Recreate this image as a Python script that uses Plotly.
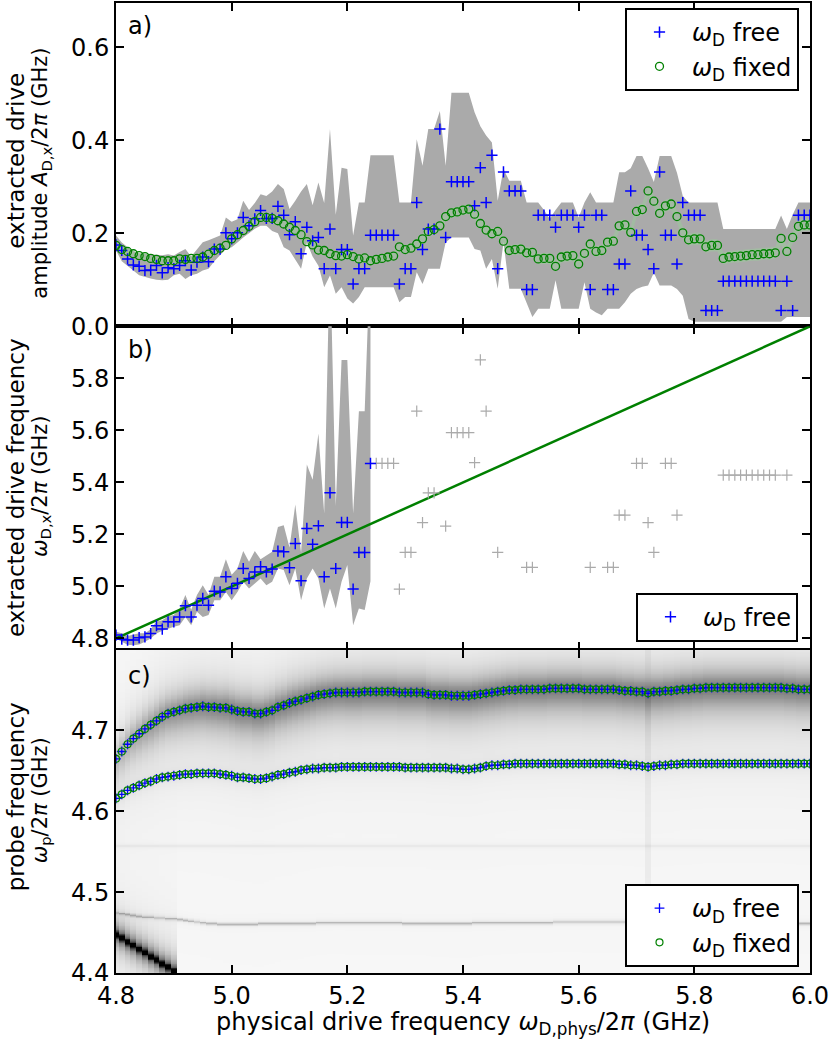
import numpy as np
import plotly.graph_objects as go
from plotly.subplots import make_subplots

# ---------------- data ----------------
x_phys = np.round(np.arange(480, 601) / 100, 2)  # physical drive frequency grid 4.80 ... 6.00 GHz

amp_free = [0.175, 0.163, 0.145, 0.132, 0.129, 0.120, 0.121, 0.131, 0.115, 0.126,
            0.124, 0.131, 0.141, 0.121, 0.138, 0.149, 0.139, 0.166, 0.166, 0.201,
            0.188, 0.201, 0.234, 0.216, 0.231, 0.249, 0.232, 0.232, 0.258, 0.239,
            0.197, 0.225, 0.156, 0.213, 0.184, 0.191, 0.124, 0.209, 0.124, 0.165,
            0.165, 0.091, 0.124, 0.124, 0.196, 0.196, 0.196, 0.196, 0.196, 0.091,
            0.124, 0.124, 0.266, 0.165, 0.209, 0.209, 0.424, 0.191, 0.311, 0.311,
            0.311, 0.311, 0.259, 0.341, 0.266, 0.368, 0.124, 0.332, 0.291, 0.291,
            0.291, 0.079, 0.079, 0.239, 0.239, 0.239, 0.213, 0.239, 0.239, 0.239,
            0.213, 0.239, 0.079, 0.239, 0.239, 0.079, 0.079, 0.134, 0.134, 0.291,
            0.196, 0.196, 0.165, 0.124, 0.332, 0.196, 0.196, 0.134, 0.266, 0.239,
            0.239, 0.239, 0.034, 0.034, 0.034, 0.097, 0.097, 0.097, 0.097, 0.097,
            0.097, 0.097, 0.097, 0.097, 0.097, 0.034, 0.097, 0.034, 0.239, 0.239,
            0.239]

amp_free_hi = [0.195, 0.180, 0.170, 0.162, 0.157, 0.156, 0.155, 0.155, 0.153, 0.155,
               0.152, 0.160, 0.166, 0.150, 0.165, 0.181, 0.185, 0.190, 0.195, 0.234,
               0.225, 0.230, 0.270, 0.250, 0.265, 0.284, 0.280, 0.290, 0.306, 0.295,
               0.252, 0.270, 0.290, 0.306, 0.260, 0.309, 0.265, 0.424, 0.240, 0.341,
               0.338, 0.195, 0.266, 0.266, 0.368, 0.368, 0.368, 0.368, 0.368, 0.266,
               0.266, 0.266, 0.402, 0.345, 0.424, 0.424, 0.463, 0.345, 0.502, 0.502,
               0.502, 0.502, 0.460, 0.430, 0.410, 0.395, 0.270, 0.338, 0.313, 0.313,
               0.313, 0.266, 0.266, 0.266, 0.250, 0.231, 0.250, 0.266, 0.266, 0.266,
               0.234, 0.266, 0.288, 0.266, 0.266, 0.266, 0.266, 0.331, 0.331, 0.340,
               0.366, 0.366, 0.340, 0.310, 0.366, 0.366, 0.366, 0.330, 0.280, 0.266,
               0.266, 0.266, 0.266, 0.266, 0.266, 0.209, 0.209, 0.209, 0.209, 0.209,
               0.209, 0.209, 0.209, 0.209, 0.209, 0.238, 0.209, 0.240, 0.266, 0.266,
               0.266]

amp_free_lo = [0.163, 0.140, 0.130, 0.120, 0.110, 0.107, 0.103, 0.100, 0.099, 0.100,
               0.110, 0.113, 0.102, 0.110, 0.113, 0.120, 0.124, 0.140, 0.154, 0.166,
               0.170, 0.180, 0.191, 0.200, 0.210, 0.216, 0.216, 0.205, 0.200, 0.170,
               0.163, 0.145, 0.124, 0.180, 0.150, 0.130, 0.084, 0.109, 0.070, 0.084,
               0.060, 0.049, 0.063, 0.084, 0.084, 0.084, 0.084, 0.084, 0.084, 0.052,
               0.063, 0.063, 0.116, 0.091, 0.124, 0.124, 0.124, 0.180, 0.191, 0.191,
               0.191, 0.191, 0.166, 0.163, 0.124, 0.145, 0.081, 0.181, 0.081, 0.081,
               0.081, 0.050, 0.020, 0.038, 0.038, 0.038, 0.099, 0.038, 0.038, 0.038,
               0.038, 0.095, 0.038, 0.030, 0.024, 0.038, 0.038, 0.038, 0.052, 0.070,
               0.080, 0.085, 0.088, 0.115, 0.088, 0.088, 0.088, 0.080, 0.066, 0.016,
               0.010, 0.010, 0.010, 0.010, 0.010, 0.010, 0.010, 0.010, 0.010, 0.010,
               0.010, 0.010, 0.010, 0.010, 0.010, 0.010, 0.020, 0.020, 0.020, 0.020,
               0.020]

amp_fixed = [0.174, 0.165, 0.161, 0.156, 0.152, 0.150, 0.146, 0.144, 0.141, 0.141,
             0.141, 0.145, 0.144, 0.146, 0.146, 0.149, 0.155, 0.163, 0.168, 0.174,
             0.188, 0.197, 0.206, 0.215, 0.225, 0.234, 0.234, 0.232, 0.227, 0.220,
             0.213, 0.206, 0.197, 0.182, 0.175, 0.164, 0.163, 0.156, 0.152, 0.151,
             0.154, 0.150, 0.145, 0.147, 0.141, 0.144, 0.146, 0.149, 0.151, 0.171,
             0.165, 0.168, 0.177, 0.188, 0.204, 0.208, 0.216, 0.236, 0.244, 0.246,
             0.250, 0.252, 0.241, 0.221, 0.207, 0.199, 0.204, 0.183, 0.163, 0.165,
             0.166, 0.158, 0.159, 0.145, 0.146, 0.146, 0.129, 0.149, 0.151, 0.152,
             0.134, 0.157, 0.177, 0.161, 0.163, 0.181, 0.183, 0.216, 0.218, 0.202,
             0.247, 0.251, 0.291, 0.269, 0.243, 0.259, 0.263, 0.236, 0.201, 0.186,
             0.188, 0.188, 0.171, 0.174, 0.174, 0.146, 0.149, 0.150, 0.151, 0.152,
             0.154, 0.154, 0.156, 0.156, 0.158, 0.189, 0.161, 0.191, 0.215, 0.218,
             0.218]

amp_fixed_err = [0.008, 0.007, 0.007, 0.006, 0.006, 0.006, 0.006, 0.006, 0.006, 0.006,
                 0.006, 0.006, 0.006, 0.006, 0.006, 0.006, 0.007, 0.007, 0.007, 0.007,
                 0.008, 0.008, 0.008, 0.008, 0.008, 0.008, 0.008, 0.008, 0.008, 0.008,
                 0.009, 0.009, 0.009, 0.009, 0.009, 0.009, 0.009, 0.009, 0.009, 0.009,
                 0.009, 0.009, 0.009, 0.009, 0.009, 0.009, 0.009, 0.009, 0.009, 0.010,
                 0.010, 0.010, 0.010, 0.010, 0.010, 0.010, 0.010, 0.011, 0.011, 0.011,
                 0.011, 0.011, 0.011, 0.011, 0.011, 0.011, 0.011, 0.011, 0.011, 0.011,
                 0.012, 0.012, 0.012, 0.012, 0.012, 0.012, 0.012, 0.012, 0.012, 0.012,
                 0.012, 0.012, 0.012, 0.012, 0.012, 0.012, 0.012, 0.012, 0.012, 0.012,
                 0.013, 0.013, 0.013, 0.013, 0.013, 0.013, 0.013, 0.013, 0.013, 0.013,
                 0.013, 0.013, 0.013, 0.013, 0.013, 0.013, 0.013, 0.013, 0.013, 0.013,
                 0.013, 0.013, 0.013, 0.013, 0.013, 0.013, 0.013, 0.013, 0.013, 0.013,
                 0.013]

freq_free = [4.813, 4.797, 4.794, 4.794, 4.803, 4.806, 4.819, 4.849, 4.836, 4.864,
             4.864, 4.883, 4.926, 4.883, 4.928, 4.954, 4.928, 4.982, 4.979, 5.037,
             4.992, 5.012, 5.069, 5.031, 5.056, 5.076, 5.056, 5.067, 5.136, 5.133,
             5.072, 5.165, 5.022, 5.223, 5.162, 5.233, 5.037, 5.360, 5.069, 5.246,
             5.246, 4.990, 5.131, 5.131, 5.473, 5.473, 5.473, 5.473, 5.473, 4.990,
             5.131, 5.131, 5.674, 5.245, 5.360, 5.360, None, 5.232, 5.591, 5.591,
             5.591, 5.591, 5.476, 5.871, 5.674, None, 5.131, None, None, None,
             None, 5.073, 5.073, None, None, None, None, None, None, None,
             None, None, 5.073, None, None, 5.073, 5.073, 5.274, 5.274, None,
             5.473, 5.473, 5.245, 5.131, None, 5.473, 5.473, 5.274, None, None,
             None, None, None, None, None, 5.428, 5.428, 5.428, 5.428, 5.428,
             5.428, 5.428, 5.428, 5.428, 5.428, None, 5.428, None, None, None,
             None]
n_reliable = 45  # fits with a usable error band (up to 5.24 GHz)

freq_free_hi = [4.826, 4.820, 4.810, 4.815, 4.820, 4.820, 4.835, 4.865, 4.870, 4.885,
                4.890, 4.915, 4.967, 4.910, 4.967, 5.005, 4.967, 5.037, 5.037, 5.105,
                5.045, 5.069, 5.136, 5.095, 5.136, 5.105, 5.120, 5.133, 5.229, 5.235,
                5.150, 5.315, 5.130, 5.469, 5.410, 5.588, 5.280, 6.300, 5.310, 5.871,
                5.871, 5.280, 5.674, 5.674, 6.300]
freq_free_lo = [4.800, 4.787, 4.776, 4.774, 4.777, 4.787, 4.800, 4.819, 4.830, 4.838,
                4.845, 4.851, 4.883, 4.851, 4.903, 4.883, 4.890, 4.947, 4.947, 4.979,
                4.947, 4.979, 5.018, 4.992, 5.012, 5.031, 5.005, 5.018, 5.069, 5.063,
                5.005, 5.069, 4.947, 5.031, 5.069, 5.031, 4.915, 4.992, 4.915, 5.018,
                5.082, 4.851, 4.915, 4.909, 5.020]

freq_fixed = list(x_phys)  # drive frequency held at the physical value

peak_upper = [4.665, 4.674, 4.683, 4.690, 4.696, 4.702, 4.707, 4.712, 4.717, 4.721,
              4.723, 4.725, 4.727, 4.728, 4.729, 4.730, 4.729, 4.729, 4.728, 4.728,
              4.726, 4.724, 4.723, 4.723, 4.721, 4.721, 4.723, 4.725, 4.729, 4.731,
              4.734, 4.736, 4.738, 4.740, 4.742, 4.744, 4.745, 4.746, 4.747, 4.747,
              4.747, 4.747, 4.747, 4.748, 4.748, 4.748, 4.748, 4.748, 4.748, 4.747,
              4.747, 4.747, 4.747, 4.747, 4.745, 4.744, 4.744, 4.744, 4.743, 4.743,
              4.743, 4.743, 4.744, 4.745, 4.746, 4.747, 4.748, 4.749, 4.750, 4.750,
              4.751, 4.751, 4.751, 4.751, 4.751, 4.752, 4.752, 4.752, 4.752, 4.752,
              4.752, 4.751, 4.751, 4.751, 4.751, 4.751, 4.751, 4.750, 4.749, 4.749,
              4.748, 4.748, 4.746, 4.748, 4.748, 4.749, 4.749, 4.750, 4.751, 4.751,
              4.752, 4.752, 4.753, 4.753, 4.753, 4.753, 4.753, 4.753, 4.753, 4.753,
              4.753, 4.753, 4.753, 4.753, 4.753, 4.753, 4.752, 4.752, 4.751, 4.751,
              4.751]

peak_lower = [4.616, 4.621, 4.626, 4.629, 4.632, 4.635, 4.637, 4.640, 4.642, 4.643,
              4.644, 4.645, 4.646, 4.646, 4.647, 4.647, 4.647, 4.647, 4.646, 4.645,
              4.644, 4.642, 4.642, 4.641, 4.640, 4.640, 4.641, 4.643, 4.645, 4.646,
              4.648, 4.649, 4.651, 4.652, 4.653, 4.653, 4.654, 4.654, 4.654, 4.655,
              4.655, 4.655, 4.655, 4.655, 4.655, 4.655, 4.655, 4.655, 4.655, 4.655,
              4.654, 4.654, 4.654, 4.654, 4.654, 4.654, 4.654, 4.654, 4.653, 4.653,
              4.652, 4.652, 4.653, 4.654, 4.656, 4.657, 4.657, 4.658, 4.658, 4.659,
              4.659, 4.659, 4.659, 4.659, 4.659, 4.659, 4.659, 4.659, 4.659, 4.659,
              4.659, 4.659, 4.659, 4.659, 4.659, 4.659, 4.659, 4.658, 4.658, 4.657,
              4.657, 4.656, 4.655, 4.656, 4.657, 4.657, 4.658, 4.658, 4.659, 4.659,
              4.659, 4.659, 4.659, 4.659, 4.659, 4.659, 4.659, 4.659, 4.659, 4.659,
              4.659, 4.659, 4.659, 4.659, 4.659, 4.659, 4.659, 4.659, 4.659, 4.659,
              4.659]

# weak spectral features seen in the probe map
band_strength = ([0.24, 0.26, 0.28, 0.30, 0.32, 0.34, 0.36, 0.37, 0.38, 0.39,
                  0.40, 0.41, 0.42, 0.43, 0.43, 0.44, 0.44, 0.45, 0.45, 0.46]
                 + [0.46] * 10 + [0.47] * 10 + [0.48] * 81)
mode_low = ([4.474, 4.473, 4.472, 4.471, 4.470, 4.469, 4.469, 4.468, 4.468, 4.467, 4.467]
            + [4.466, 4.465, 4.464, 4.463, 4.462, 4.461, 4.461, 4.460, 4.460, 4.460,
               4.460, 4.460, 4.460, 4.460]
            + [4.461] * 10 + [4.462] * 15 + [4.461] * 12 + [4.462] * 14
            + [4.463] * 30 + [4.462] * 8 + [4.461] * 7)
mode_mid = 4.557
streak_centre = [4.447, 4.443, 4.438, 4.434, 4.429, 4.425, 4.420, 4.416, 4.411, 4.407, 4.402]
noisy_column = 92

probe_y = np.round(np.arange(4400, 4801) / 1000, 3)

# ---------------- probe map ----------------
P = probe_y[:, None]
pu = np.array(peak_upper)[None, :]
pl = np.array(peak_lower)[None, :]
ml = np.array(mode_low)[None, :]
d = P - pu
gam = np.where(d > 0, 0.020, 0.026)
z = 0.03 + np.array(band_strength)[None, :] / (1 + (d / gam) ** 2)
z = z + 0.06 / (1 + ((P - pl) / 0.007) ** 2)
z = z + 0.08 / (1 + ((P - mode_mid) / 0.0012) ** 2)
z = z + 0.25 / (1 + ((P - ml) / 0.0012) ** 2)
for k, c in enumerate(streak_centre):
    z[:, k] += 0.95 / (1 + ((probe_y - c) / 0.003) ** 2) + 0.40 / (1 + ((probe_y - c) / 0.015) ** 2)
z[probe_y > 4.48, noisy_column] += 0.04
z = np.clip(z, 0, 1)

# ---------------- figure ----------------
BLUE = "#0000ff"
GREEN = "#008000"
GREY = "#aaaaaa"
FONT = "DejaVu Sans"

fig = make_subplots(rows=3, cols=1, shared_xaxes=True, vertical_spacing=0)

xs = list(x_phys)

# panel a
fig.add_trace(go.Scatter(x=xs + xs[::-1], y=amp_free_hi + amp_free_lo[::-1], fill="toself",
                         fillcolor=GREY, line=dict(width=0), mode="lines",
                         showlegend=False, hoverinfo="skip"), row=1, col=1)
fix_hi = [a + e for a, e in zip(amp_fixed, amp_fixed_err)]
fix_lo = [a - e for a, e in zip(amp_fixed, amp_fixed_err)]
fig.add_trace(go.Scatter(x=xs + xs[::-1], y=fix_hi + fix_lo[::-1], fill="toself",
                         fillcolor="rgba(150,220,150,0.35)", line=dict(width=0), mode="lines",
                         showlegend=False, hoverinfo="skip"), row=1, col=1)
fig.add_trace(go.Scatter(x=xs, y=amp_free, mode="markers", name="<i>ω</i><sub>D</sub> free",
                         marker=dict(symbol="cross-thin", size=8, color=BLUE,
                                     line=dict(width=1.5, color=BLUE)),
                         legend="legend"), row=1, col=1)
fig.add_trace(go.Scatter(x=xs, y=amp_fixed, mode="markers", name="<i>ω</i><sub>D</sub> fixed",
                         marker=dict(symbol="circle-open", size=8, color=GREEN,
                                     line=dict(width=1.3, color=GREEN)),
                         legend="legend"), row=1, col=1)

# panel b
xr = xs[:n_reliable]
fig.add_trace(go.Scatter(x=xr + xr[::-1], y=freq_free_hi + freq_free_lo[::-1], fill="toself",
                         fillcolor=GREY, line=dict(width=0), mode="lines",
                         showlegend=False, hoverinfo="skip"), row=2, col=1)
fig.add_trace(go.Scatter(x=xs, y=freq_fixed, mode="lines", line=dict(color=GREEN, width=2.5),
                         showlegend=False), row=2, col=1)
fig.add_trace(go.Scatter(x=xs[n_reliable:], y=freq_free[n_reliable:], mode="markers",
                         marker=dict(symbol="cross-thin", size=8, color=GREY,
                                     line=dict(width=1.2, color=GREY)),
                         showlegend=False), row=2, col=1)
fig.add_trace(go.Scatter(x=xr, y=freq_free[:n_reliable], mode="markers",
                         name="<i>ω</i><sub>D</sub> free",
                         marker=dict(symbol="cross-thin", size=8, color=BLUE,
                                     line=dict(width=1.5, color=BLUE)),
                         legend="legend2"), row=2, col=1)

# panel c
fig.add_trace(go.Heatmap(x=xs, y=list(probe_y), z=z, zmin=0, zmax=1,
                         colorscale=[[0, "#ffffff"], [1, "#000000"]], showscale=False,
                         hoverinfo="skip"), row=3, col=1)
for k, pk in enumerate([peak_upper, peak_lower]):
    fig.add_trace(go.Scatter(x=xs, y=pk, mode="markers", name="<i>ω</i><sub>D</sub> free",
                             marker=dict(symbol="cross-thin", size=7, color=BLUE,
                                         line=dict(width=1.3, color=BLUE)),
                             legend="legend3", showlegend=(k == 0)), row=3, col=1)
for k, pk in enumerate([peak_upper, peak_lower]):
    fig.add_trace(go.Scatter(x=xs, y=pk, mode="markers", name="<i>ω</i><sub>D</sub> fixed",
                             marker=dict(symbol="circle-open", size=7, color=GREEN,
                                         line=dict(width=1.2, color=GREEN)),
                             legend="legend3", showlegend=(k == 0)), row=3, col=1)

axis_common = dict(showline=True, linewidth=2, linecolor="black", mirror="ticks",
                   ticks="inside", ticklen=8, tickwidth=1.5, tickcolor="black",
                   showgrid=False, zeroline=False,
                   tickfont=dict(family=FONT, size=24, color="black"))

xt = [4.8, 5.0, 5.2, 5.4, 5.6, 5.8, 6.0]
for r in (1, 2, 3):
    fig.update_xaxes(range=[4.8, 6.0], tickvals=xt, ticktext=[f"{v:.1f}" for v in xt],
                     **axis_common, row=r, col=1)
fig.update_xaxes(showticklabels=False, row=1, col=1)
fig.update_xaxes(showticklabels=False, row=2, col=1)

ya = [0.0, 0.2, 0.4, 0.6]
yb = [4.8, 5.0, 5.2, 5.4, 5.6, 5.8]
yc = [4.4, 4.5, 4.6, 4.7]
fig.update_yaxes(range=[0, 0.695], tickvals=ya, ticktext=[f"{v:.1f}" for v in ya],
                 **axis_common, row=1, col=1)
fig.update_yaxes(range=[4.757, 6.0], tickvals=yb, ticktext=[f"{v:.1f}" for v in yb],
                 **axis_common, row=2, col=1)
fig.update_yaxes(range=[4.4, 4.8], tickvals=yc, ticktext=[f"{v:.1f}" for v in yc],
                 **axis_common, row=3, col=1)

W, H = 830, 1050
L, R, T, B = 116, 20, 1, 77
PW, PH = W - L - R, H - T - B


def px(X):
    return (X - L) / PW


def py(Y):
    return 1 - (Y - T) / PH


legend_common = dict(bgcolor="white", bordercolor="black", borderwidth=2,
                     font=dict(family=FONT, size=24, color="black"),
                     xanchor="right", itemsizing="trace", itemwidth=55, tracegroupgap=0)
fig.update_layout(
    width=W, height=H, margin=dict(l=L, r=R, t=T, b=B),
    paper_bgcolor="white", plot_bgcolor="white",
    font=dict(family=FONT, size=24, color="black"),
    legend=dict(x=px(799), y=py(6), yanchor="top", **legend_common),
    legend2=dict(x=px(798), y=py(641), yanchor="bottom", **legend_common),
    legend3=dict(x=px(799), y=py(967), yanchor="bottom", **legend_common),
)

ann = []
for lab, Y in (("a)", 24), ("b)", 349), ("c)", 675)):
    ann.append(dict(text=lab, x=px(126), y=py(Y), xref="paper", yref="paper",
                    xanchor="left", yanchor="middle", showarrow=False,
                    font=dict(family=FONT, size=24, color="black")))

ytitles = [
    ("extracted drive", 16, 159, 23),
    ("amplitude <i>A</i><sub>D,x</sub>/2<i>π</i> (GHz)", 41, 172, 21),
    ("extracted drive frequency", 16, 487, 23),
    ("<i>ω</i><sub>D,x</sub>/2<i>π</i> (GHz)", 41, 485, 21),
    ("probe frequency", 16, 797, 23),
    ("<i>ω</i><sub>p</sub>/2<i>π</i> (GHz)", 41, 800, 21),
]
for txt, X, Y, fs in ytitles:
    ann.append(dict(text=txt, x=px(X), y=py(Y), xref="paper", yref="paper",
                    xanchor="center", yanchor="middle", textangle=-90, showarrow=False,
                    font=dict(family=FONT, size=fs, color="black")))

ann.append(dict(text="physical drive frequency <i>ω</i><sub>D,phys</sub>/2<i>π</i> (GHz)",
                x=px(463), y=py(1024), xref="paper", yref="paper",
                xanchor="center", yanchor="middle", showarrow=False,
                font=dict(family=FONT, size=24, color="black")))
fig.update_layout(annotations=ann)

fig.write_html("out.html", config={"displayModeBar": False},
               post_script="document.body.style.margin='0';")
